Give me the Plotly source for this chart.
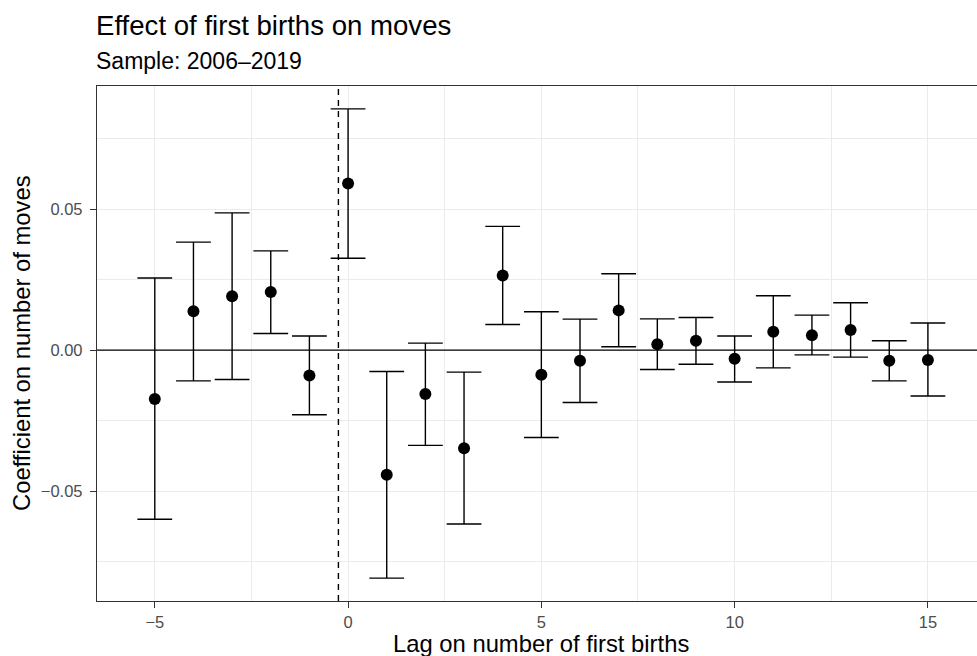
import plotly.graph_objects as go

# Event-study coefficients: lag on number of first births vs. effect on moves
lags = [-5, -4, -3, -2, -1, 0, 1, 2, 3, 4, 5, 6, 7, 8, 9, 10, 11, 12, 13, 14, 15]
estimate = [-0.0173, 0.0138, 0.0191, 0.0206, -0.0090, 0.0591, -0.0442, -0.0156,
            -0.0348, 0.0265, -0.0087, -0.0038, 0.0141, 0.0021, 0.0033, -0.0031,
            0.0065, 0.0053, 0.0071, -0.0038, -0.0035]
ci_lower = [-0.0600, -0.0109, -0.0104, 0.0059, -0.0229, 0.0326, -0.0809, -0.0338,
            -0.0617, 0.0091, -0.0310, -0.0186, 0.0012, -0.0069, -0.0050, -0.0113,
            -0.0063, -0.0017, -0.0025, -0.0109, -0.0163]
ci_upper = [0.0256, 0.0383, 0.0487, 0.0352, 0.0050, 0.0856, -0.0076, 0.0025,
            -0.0078, 0.0439, 0.0136, 0.0110, 0.0271, 0.0111, 0.0116, 0.0050,
            0.0193, 0.0124, 0.0168, 0.0033, 0.0096]
x_ticks = [-5, 0, 5, 10, 15]
y_ticks = [-0.05, 0.0, 0.05]
y_tick_text = ["\u22120.05", "0.00", "0.05"]
x_tick_text = ["\u22125", "0", "5", "10", "15"]

title = "Effect of first births on moves"
subtitle = "Sample: 2006\u20132019"
x_title = "Lag on number of first births"
y_title = "Coefficient on number of moves"

FONT = "Liberation Sans, Arial, Helvetica, sans-serif"
W, H = 977, 656
ML, MR, MT, MB = 97, 0, 86, 55
X_RANGE = [-6.495, 16.27]
Y_RANGE = [-0.089, 0.0937]
px_per_x = (W - ML - MR) / (X_RANGE[1] - X_RANGE[0])

err_plus = [u - e for u, e in zip(ci_upper, estimate)]
err_minus = [e - l for e, l in zip(estimate, ci_lower)]

fig = go.Figure()
fig.add_trace(go.Scatter(
    x=lags, y=estimate, mode="markers",
    marker=dict(color="black", size=12),
    error_y=dict(type="data", symmetric=False, array=err_plus, arrayminus=err_minus,
                 color="black", thickness=1.4, width=0.45 * px_per_x),
    showlegend=False,
))

# reference lines: zero effect and the event time
fig.add_shape(type="line", xref="paper", x0=0, x1=1, yref="y", y0=0, y1=0,
              line=dict(color="black", width=1.4), layer="above")
fig.add_shape(type="line", xref="x", x0=-0.25, x1=-0.25, yref="paper", y0=0, y1=1,
              line=dict(color="black", width=1.4, dash="6px,5px"), layer="above")

axis_common = dict(
    showline=True, linecolor="#333333", linewidth=1.4,
    ticks="outside", ticklen=6, tickcolor="#333333", tickwidth=1.4,
    tickfont=dict(family=FONT, size=16.5, color="#4D4D4D"),
    showgrid=True, gridcolor="#EBEBEB", gridwidth=1.2,
    zeroline=False,
)
fig.update_xaxes(range=X_RANGE, tickvals=x_ticks, ticktext=x_tick_text, mirror=True,
                 minor=dict(tickvals=[-2.5, 2.5, 7.5, 12.5], showgrid=True,
                            gridcolor="#EBEBEB", gridwidth=0.7, ticks=""),
                 **axis_common)
fig.update_yaxes(range=Y_RANGE, tickvals=y_ticks, ticktext=y_tick_text, mirror=False,
                 ticklabelstandoff=4,
                 minor=dict(tickvals=[-0.075, -0.025, 0.025, 0.075], showgrid=True,
                            gridcolor="#EBEBEB", gridwidth=0.7, ticks=""),
                 **axis_common)

fig.add_annotation(text=title, xref="paper", x=0, xanchor="left", xshift=-3,
                   yref="paper", y=1.1178, yanchor="middle", showarrow=False,
                   font=dict(family=FONT, size=27.6, color="black"))
fig.add_annotation(text=subtitle, xref="paper", x=0, xanchor="left", xshift=-3,
                   yref="paper", y=1.048, yanchor="middle", showarrow=False,
                   font=dict(family=FONT, size=23, color="black"))
fig.add_annotation(text=x_title, xref="x", x=5, xanchor="center", yref="paper",
                   y=-0.082, yanchor="middle", showarrow=False,
                   font=dict(family=FONT, size=23.8, color="black"))
fig.add_annotation(text=y_title, xref="paper", x=(21.5 - ML) / (W - ML - MR),
                   xanchor="center", yref="paper", y=0.5, yanchor="middle",
                   textangle=-90, showarrow=False,
                   font=dict(family=FONT, size=23.8, color="black"))

fig.update_layout(
    width=W, height=H,
    margin=dict(l=ML, r=MR, t=MT, b=MB, pad=0),
    plot_bgcolor="white", paper_bgcolor="white",
    font=dict(family=FONT),
)

fig.write_html("out.html")
